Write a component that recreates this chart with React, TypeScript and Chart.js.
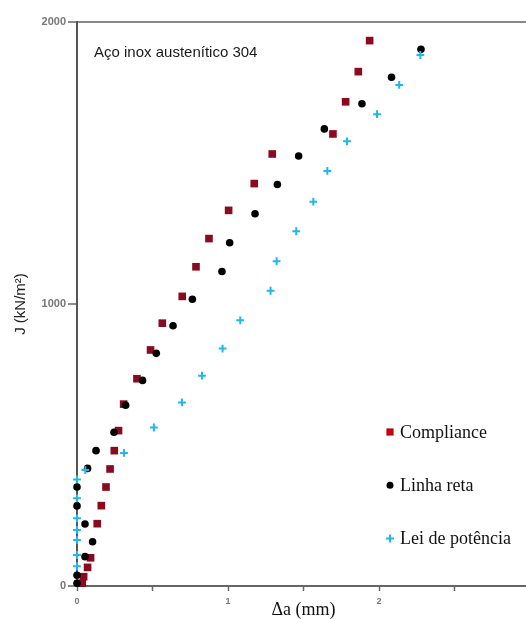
import React, { useEffect, useRef } from 'react';
import { Chart, registerables } from 'chart.js';

Chart.register(...registerables);

// ---- data (Δa in mm, J in kN/m²) ----
const seriesLabels = ['Compliance', 'Linha reta', 'Lei de potência'];

const complianceX = [0.035, 0.044, 0.07, 0.09, 0.134, 0.161, 0.192, 0.219, 0.247, 0.275, 0.309, 0.397, 0.487, 0.565, 0.697, 0.788, 0.874, 1.004, 1.174, 1.293, 1.695, 1.779, 1.863, 1.938];
const complianceY = [10, 33, 66, 100, 221, 285, 351, 415, 480, 551, 645, 735, 837, 932, 1027, 1132, 1232, 1332, 1427, 1532, 1603, 1717, 1824, 1934];

const linhaX = [0, 0, 0.053, 0.103, 0.053, 0, 0, 0.07, 0.126, 0.245, 0.322, 0.434, 0.525, 0.636, 0.764, 0.96, 1.011, 1.179, 1.327, 1.468, 1.638, 1.887, 2.083, 2.278];
const linhaY = [10, 38, 104, 157, 220, 284, 351, 417, 480, 545, 641, 729, 825, 923, 1017, 1115, 1217, 1320, 1424, 1525, 1621, 1710, 1804, 1903];

const potenciaX = [0, 0, 0, 0, 0, 0, 0, 0.055, 0.311, 0.509, 0.695, 0.828, 0.964, 1.081, 1.282, 1.322, 1.452, 1.565, 1.658, 1.788, 1.987, 2.134, 2.274];
const potenciaY = [70, 110, 163, 199, 240, 311, 378, 411, 472, 562, 651, 746, 842, 942, 1047, 1152, 1258, 1363, 1472, 1577, 1673, 1777, 1883];

const xTicksMajor = [0, 1, 2, 3];
const yTicksMajor = [0, 1000, 2000];

const noteText = 'Aço inox austenítico 304';
const xTitle = 'Δa (mm)';
const yTitle = 'J (kN/m²)';

const toPoints = (xs: number[], ys: number[]) => xs.map((x, i) => ({ x, y: ys[i] }));

const overlayPlugin = {
  id: 'overlay',
  afterDraw(chart: any, _args: any, opts: any) {
    const ctx = chart.ctx as CanvasRenderingContext2D;
    const ca = chart.chartArea;
    ctx.save();
    // annotation
    ctx.font = opts.noteFont;
    ctx.fillStyle = opts.noteColor;
    ctx.textAlign = 'left';
    ctx.textBaseline = 'alphabetic';
    ctx.fillText(opts.note, ca.left + opts.noteDx, ca.top + opts.noteDy);

    // legend
    chart.data.datasets.forEach((ds: any, i: number) => {
      const base = opts.legendY + i * opts.legendGap;
      const my = base - opts.markerRise;
      const mx = opts.legendX;
      const style = ds.pointStyle;
      const col = opts.legendColors[i];
      if (style === 'rect') {
        ctx.fillStyle = col;
        ctx.fillRect(mx - 3.6, my - 3.6, 7.2, 7.2);
      } else if (style === 'circle') {
        ctx.fillStyle = col;
        ctx.beginPath();
        ctx.arc(mx, my, 3.5, 0, Math.PI * 2);
        ctx.fill();
      } else {
        ctx.strokeStyle = col;
        ctx.lineWidth = 2;
        ctx.beginPath();
        ctx.moveTo(mx - 4, my);
        ctx.lineTo(mx + 4, my);
        ctx.moveTo(mx, my - 4);
        ctx.lineTo(mx, my + 4);
        ctx.stroke();
      }
      ctx.font = opts.legendFont;
      ctx.fillStyle = opts.legendTextColor;
      ctx.textAlign = 'left';
      ctx.textBaseline = 'alphabetic';
      ctx.fillText(ds.label, opts.legendTextX, base);
    });
    ctx.restore();
  },
};

export default function App() {
  const ref = useRef<HTMLCanvasElement>(null);

  useEffect(() => {
    const canvas = ref.current;
    if (!canvas) return;
    const chart = new Chart(canvas, {
      type: 'scatter',
      data: {
        datasets: [
          {
            label: seriesLabels[0],
            data: toPoints(complianceX, complianceY),
            pointStyle: 'rect',
            pointRadius: 5.4,
            pointHoverRadius: 5.4,
            backgroundColor: '#8a0b20',
            borderColor: '#8a0b20',
            borderWidth: 0,
            clip: false,
            order: 2,
          },
          {
            label: seriesLabels[1],
            data: toPoints(linhaX, linhaY),
            pointStyle: 'circle',
            pointRadius: 3.8,
            pointHoverRadius: 3.8,
            backgroundColor: '#000000',
            borderColor: '#000000',
            borderWidth: 0,
            clip: false,
            order: 1,
          },
          {
            label: seriesLabels[2],
            data: toPoints(potenciaX, potenciaY),
            pointStyle: 'cross',
            pointRadius: 3.9,
            pointHoverRadius: 3.9,
            backgroundColor: '#1cb8ee',
            borderColor: '#1cb8ee',
            borderWidth: 2,
            clip: false,
            order: 0,
          },
        ],
      },
      options: {
        animation: false,
        responsive: false,
        devicePixelRatio: 1,
        events: [],
        layout: { padding: { top: 22, right: 10, left: 0, bottom: 0 } },
        plugins: {
          legend: { display: false },
          tooltip: { enabled: false },
          overlay: {
            note: noteText,
            noteFont: '15px "Liberation Sans", Arial, sans-serif',
            noteColor: '#1a1a1a',
            noteDx: 17,
            noteDy: 35,
            legendX: 390,
            legendTextX: 400,
            legendY: 437.5,
            legendGap: 53.3,
            markerRise: 5.5,
            legendColors: ['#c40012', '#000000', '#1cb8ee'],
            legendFont: '18px "Liberation Serif", "Times New Roman", serif',
            legendTextColor: '#111111',
          },
        } as any,
        scales: {
          x: {
            type: 'linear',
            min: 0,
            max: 3,
            afterFit: (s: any) => {
              s.height = 33;
            },
            afterBuildTicks: (s: any) => {
              const t: any[] = [];
              for (let v = 0; v <= 3.0001; v += 0.5) t.push({ value: Math.round(v * 10) / 10 });
              s.ticks = t;
            },
            ticks: {
              autoSkip: false,
              maxRotation: 0,
              padding: 5,
              color: '#777777',
              font: { family: '"Liberation Sans", Arial, sans-serif', size: 9, weight: 'bold' },
              callback: (v: any) => (xTicksMajor.includes(Number(v)) ? String(v) : ''),
            },
            grid: {
              drawOnChartArea: false,
              tickLength: 5,
              tickColor: '#666666',
              tickWidth: 1.5,
            },
            border: { color: '#666666', width: 2 },
            title: {
              display: true,
              text: xTitle,
              color: '#111111',
              font: { family: '"Liberation Serif", "Times New Roman", serif', size: 18, lineHeight: 1 },
              padding: { top: 0, bottom: 0 },
            },
          },
          y: {
            type: 'linear',
            min: 0,
            max: 2000,
            afterFit: (s: any) => {
              s.width = 77;
            },
            afterBuildTicks: (s: any) => {
              s.ticks = yTicksMajor.map((value) => ({ value }));
            },
            ticks: {
              padding: 2,
              color: '#777777',
              font: { family: '"Liberation Sans", Arial, sans-serif', size: 11, weight: 'bold' },
              callback: (v: any) => String(v),
            },
            grid: {
              drawOnChartArea: true,
              tickLength: 9,
              tickColor: '#666666',
              tickWidth: 1.5,
              lineWidth: 2,
              color: (c: any) => (c.tick && c.tick.value === 2000 ? '#8a8a8a' : 'rgba(0,0,0,0)'),
            },
            border: { color: '#555555', width: 2 },
            title: {
              display: true,
              text: yTitle,
              color: '#222222',
              font: { family: '"Liberation Sans", Arial, sans-serif', size: 15 },
              padding: { top: 12, bottom: 0 },
            },
          },
        },
      },
      plugins: [overlayPlugin],
    } as any);
    return () => chart.destroy();
  }, []);

  return (
    <div
      style={{
        position: 'fixed',
        left: 0,
        top: 0,
        width: 526,
        height: 619,
        overflow: 'hidden',
        background: '#ffffff',
      }}
    >
      <canvas ref={ref} width={540} height={619} style={{ display: 'block', width: 540, height: 619 }} />
    </div>
  );
}
